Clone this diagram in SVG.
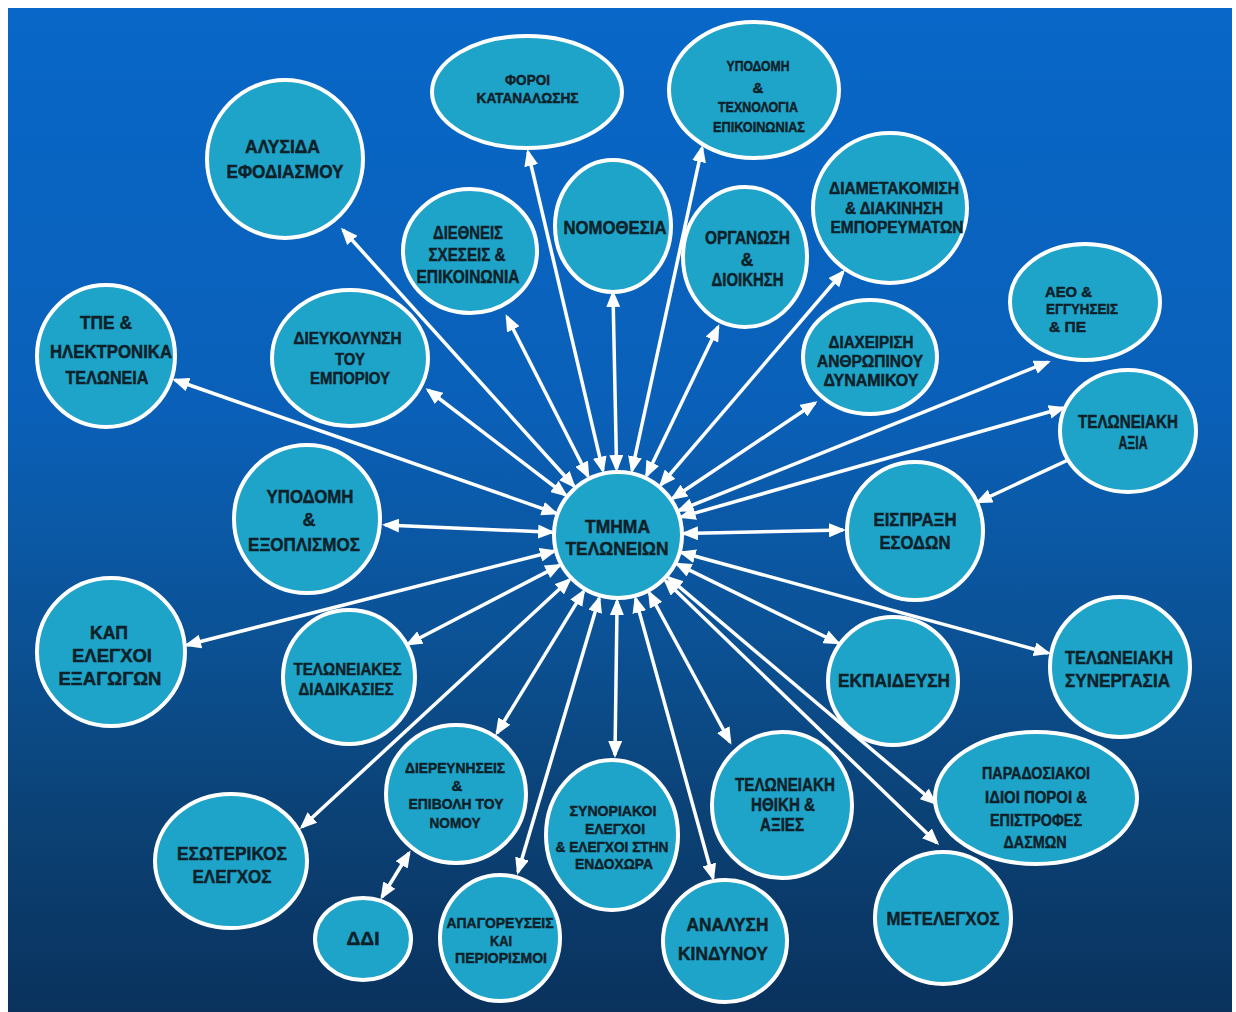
<svg xmlns="http://www.w3.org/2000/svg" width="1236" height="1012" viewBox="0 0 1236 1012">
<defs>
<linearGradient id="bg" x1="0" y1="0" x2="0" y2="1">
<stop offset="0" stop-color="#0867c8"/>
<stop offset="0.4" stop-color="#0a60b8"/>
<stop offset="0.62" stop-color="#0b5296"/>
<stop offset="0.8" stop-color="#0b4276"/>
<stop offset="1" stop-color="#0a325d"/>
</linearGradient>
<marker id="ah" markerUnits="userSpaceOnUse" markerWidth="17" markerHeight="14" refX="14" refY="7" orient="auto-start-reverse">
<path d="M0,0 L17,7 L0,14 z" fill="#ffffff"/>
</marker>
<style>
.n ellipse{fill:#1fa4c9;stroke:#ffffff;stroke-width:4}
.n text{font-family:"Liberation Sans",Arial,sans-serif;font-weight:bold;fill:#0e2129;stroke:#0e2129;stroke-width:0.45;text-anchor:middle;dominant-baseline:central}
.n text.s{text-anchor:start}
.f13{font-size:14px}.f14{font-size:15px}.f15{font-size:16px}.f15b{font-size:15px}.f16{font-size:17.5px}.f17{font-size:18px}.f18{font-size:18.5px}
#connectors line{stroke:#ffffff;stroke-width:3.5;marker-start:url(#ah);marker-end:url(#ah)}
#connectors line.one{marker-start:none}
</style>
</defs>
<rect x="0" y="0" width="1236" height="1012" fill="#ffffff"/>
<rect x="8" y="8" width="1224" height="1004" fill="url(#bg)"/>

<g id="connectors">
<line x1="573.8" y1="486.0" x2="343" y2="230"/>
<line x1="602.9" y1="470.7" x2="528" y2="152"/>
<line x1="632.0" y1="470.5" x2="702" y2="148"/>
<line x1="616.6" y1="469.0" x2="613" y2="293"/>
<line x1="588.0" y1="476.2" x2="507" y2="317"/>
<line x1="646.6" y1="475.5" x2="718" y2="327"/>
<line x1="660.9" y1="484.8" x2="843" y2="272"/>
<line x1="672.8" y1="498.3" x2="815" y2="403"/>
<line x1="679.2" y1="510.4" x2="1048" y2="362"/>
<line x1="681.5" y1="516.9" x2="1063" y2="408"/>
<line x1="555.7" y1="513.2" x2="175" y2="380"/>
<line x1="565.5" y1="495.0" x2="428" y2="390"/>
<line x1="552.1" y1="532.2" x2="385" y2="525"/>
<line x1="684.0" y1="533.5" x2="843" y2="530"/>
<line x1="677.2" y1="564.1" x2="838" y2="643"/>
<line x1="681.6" y1="552.5" x2="1048" y2="653"/>
<line x1="554.0" y1="551.3" x2="187" y2="645"/>
<line x1="559.4" y1="565.4" x2="408" y2="644"/>
<line x1="569.5" y1="579.8" x2="302" y2="827"/>
<line x1="583.6" y1="591.3" x2="497" y2="733"/>
<line x1="599.2" y1="598.3" x2="518" y2="872"/>
<line x1="617.1" y1="601.0" x2="615" y2="755"/>
<line x1="635.6" y1="598.6" x2="713" y2="878"/>
<line x1="649.4" y1="593.0" x2="730" y2="742"/>
<line x1="668.4" y1="577.6" x2="935" y2="803"/>
<line x1="665.5" y1="580.8" x2="937" y2="843"/>
<line class="one" x1="1068" y1="460" x2="978" y2="502"/>
<line x1="382" y1="897" x2="409" y2="853"/>
</g>

<g id="n-tmima" class="n"><ellipse cx="618" cy="535" rx="64" ry="63"/>
<text class="f18" x="617.5" y="526" textLength="65" lengthAdjust="spacingAndGlyphs">ΤΜΗΜΑ</text>
<text class="f18" x="617" y="548" textLength="103" lengthAdjust="spacingAndGlyphs">ΤΕΛΩΝΕΙΩΝ</text></g>

<g id="n-alysida" class="n"><ellipse cx="285" cy="159" rx="78" ry="79"/>
<text class="f17" x="282.5" y="147" textLength="75" lengthAdjust="spacingAndGlyphs">ΑΛΥΣΙΔΑ</text>
<text class="f17" x="285" y="172" textLength="117" lengthAdjust="spacingAndGlyphs">ΕΦΟΔΙΑΣΜΟΥ</text></g>

<g id="n-foroi" class="n"><ellipse cx="527" cy="92" rx="95" ry="56"/>
<text class="f13" x="527.5" y="80" textLength="45" lengthAdjust="spacingAndGlyphs">ΦΟΡΟΙ</text>
<text class="f13" x="527.5" y="98" textLength="102" lengthAdjust="spacingAndGlyphs">ΚΑΤΑΝΑΛΩΣΗΣ</text></g>

<g id="n-ypodomi-tech" class="n"><ellipse cx="754" cy="90" rx="85" ry="68"/>
<text class="f15b" x="758" y="65" textLength="63" lengthAdjust="spacingAndGlyphs">ΥΠΟΔΟΜΗ</text>
<text class="f15b" x="758" y="87">&amp;</text>
<text class="f15b" x="758" y="106" textLength="80" lengthAdjust="spacingAndGlyphs">ΤΕΧΝΟΛΟΓΙΑ</text>
<text class="f15b" x="759" y="126" textLength="92" lengthAdjust="spacingAndGlyphs">ΕΠΙΚΟΙΝΩΝΙΑΣ</text></g>

<g id="n-nomothesia" class="n"><ellipse cx="613" cy="226" rx="58" ry="66"/>
<text class="f18" x="615" y="227" textLength="103" lengthAdjust="spacingAndGlyphs">ΝΟΜΟΘΕΣΙΑ</text></g>

<g id="n-diethneis" class="n"><ellipse cx="470" cy="251" rx="67" ry="62"/>
<text class="f16" x="468" y="233" textLength="70" lengthAdjust="spacingAndGlyphs">ΔΙΕΘΝΕΙΣ</text>
<text class="f16" x="467" y="255" textLength="77" lengthAdjust="spacingAndGlyphs">ΣΧΕΣΕΙΣ &amp;</text>
<text class="f16" x="468" y="277" textLength="103" lengthAdjust="spacingAndGlyphs">ΕΠΙΚΟΙΝΩΝΙΑ</text></g>

<g id="n-organosi" class="n"><ellipse cx="745" cy="257" rx="62" ry="70"/>
<text class="f16" x="747.5" y="238" textLength="85" lengthAdjust="spacingAndGlyphs">ΟΡΓΑΝΩΣΗ</text>
<text class="f16" x="747" y="260">&amp;</text>
<text class="f16" x="747.5" y="280" textLength="72" lengthAdjust="spacingAndGlyphs">ΔΙΟΙΚΗΣΗ</text></g>

<g id="n-diametakomisi" class="n"><ellipse cx="890" cy="208" rx="77" ry="75"/>
<text class="f15" x="894" y="188" textLength="130" lengthAdjust="spacingAndGlyphs">ΔΙΑΜΕΤΑΚΟΜΙΣΗ</text>
<text class="f15" x="894" y="208" textLength="98" lengthAdjust="spacingAndGlyphs">&amp; ΔΙΑΚΙΝΗΣΗ</text>
<text class="f15" x="897" y="227" textLength="133" lengthAdjust="spacingAndGlyphs">ΕΜΠΟΡΕΥΜΑΤΩΝ</text></g>

<g id="n-aeo" class="n"><ellipse cx="1085" cy="302" rx="75" ry="58"/>
<text class="f13 s" x="1045" y="292" textLength="47" lengthAdjust="spacingAndGlyphs">ΑΕΟ  &amp;</text>
<text class="f13 s" x="1046" y="309" textLength="72" lengthAdjust="spacingAndGlyphs">ΕΓΓΥΗΣΕΙΣ</text>
<text class="f13 s" x="1049" y="327" textLength="37" lengthAdjust="spacingAndGlyphs">&amp; ΠΕ</text></g>

<g id="n-diaxeirisi" class="n"><ellipse cx="870" cy="357" rx="67" ry="57"/>
<text class="f15" x="871" y="342" textLength="85" lengthAdjust="spacingAndGlyphs">ΔΙΑΧΕΙΡΙΣΗ</text>
<text class="f15" x="870" y="361" textLength="106" lengthAdjust="spacingAndGlyphs">ΑΝΘΡΩΠΙΝΟΥ</text>
<text class="f15" x="871" y="380" textLength="95" lengthAdjust="spacingAndGlyphs">ΔΥΝΑΜΙΚΟΥ</text></g>

<g id="n-axia" class="n"><ellipse cx="1128" cy="431" rx="68" ry="61"/>
<text class="f16" x="1128" y="422" textLength="100" lengthAdjust="spacingAndGlyphs">ΤΕΛΩΝΕΙΑΚΗ</text>
<text class="f16" x="1133" y="443" textLength="29" lengthAdjust="spacingAndGlyphs">ΑΞΙΑ</text></g>

<g id="n-tpe" class="n"><ellipse cx="106" cy="356" rx="69" ry="71"/>
<text class="f17" x="106" y="323" textLength="52" lengthAdjust="spacingAndGlyphs">ΤΠΕ &amp;</text>
<text class="f17" x="111" y="352" textLength="122" lengthAdjust="spacingAndGlyphs">ΗΛΕΚΤΡΟΝΙΚΑ</text>
<text class="f17" x="107" y="378" textLength="83" lengthAdjust="spacingAndGlyphs">ΤΕΛΩΝΕΙΑ</text></g>

<g id="n-dieukolynsi" class="n"><ellipse cx="350" cy="358" rx="78" ry="68"/>
<text class="f15" x="347.5" y="338" textLength="108" lengthAdjust="spacingAndGlyphs">ΔΙΕΥΚΟΛΥΝΣΗ</text>
<text class="f15" x="350" y="359" textLength="30" lengthAdjust="spacingAndGlyphs">ΤΟΥ</text>
<text class="f15" x="350" y="378" textLength="80" lengthAdjust="spacingAndGlyphs">ΕΜΠΟΡΙΟΥ</text></g>

<g id="n-ypodomi-ex" class="n"><ellipse cx="307" cy="519" rx="73" ry="74"/>
<text class="f17" x="310" y="497" textLength="87" lengthAdjust="spacingAndGlyphs">ΥΠΟΔΟΜΗ</text>
<text class="f17" x="309" y="520">&amp;</text>
<text class="f17" x="304" y="545" textLength="112" lengthAdjust="spacingAndGlyphs">ΕΞΟΠΛΙΣΜΟΣ</text></g>

<g id="n-eispraxi" class="n"><ellipse cx="915" cy="531" rx="68" ry="69"/>
<text class="f17" x="915" y="520" textLength="83" lengthAdjust="spacingAndGlyphs">ΕΙΣΠΡΑΞΗ</text>
<text class="f17" x="915" y="543" textLength="71" lengthAdjust="spacingAndGlyphs">ΕΣΟΔΩΝ</text></g>

<g id="n-ekpaideusi" class="n"><ellipse cx="893" cy="681" rx="65" ry="64"/>
<text class="f18" x="894" y="680" textLength="112" lengthAdjust="spacingAndGlyphs">ΕΚΠΑΙΔΕΥΣΗ</text></g>

<g id="n-synergasia" class="n"><ellipse cx="1120" cy="667" rx="70" ry="70"/>
<text class="f18" x="1119" y="657" textLength="108" lengthAdjust="spacingAndGlyphs">ΤΕΛΩΝΕΙΑΚΗ</text>
<text class="f18" x="1117.5" y="680" textLength="105" lengthAdjust="spacingAndGlyphs">ΣΥΝΕΡΓΑΣΙΑ</text></g>

<g id="n-kap" class="n"><ellipse cx="111" cy="652" rx="74" ry="74"/>
<text class="f18" x="109" y="632" textLength="38" lengthAdjust="spacingAndGlyphs">ΚΑΠ</text>
<text class="f18" x="112" y="655" textLength="80" lengthAdjust="spacingAndGlyphs">ΕΛΕΓΧΟΙ</text>
<text class="f18" x="110" y="678" textLength="103" lengthAdjust="spacingAndGlyphs">ΕΞΑΓΩΓΩΝ</text></g>

<g id="n-diadikasies" class="n"><ellipse cx="349" cy="677" rx="66" ry="67"/>
<text class="f15" x="347.5" y="669" textLength="108" lengthAdjust="spacingAndGlyphs">ΤΕΛΩΝΕΙΑΚΕΣ</text>
<text class="f15" x="346" y="689" textLength="95" lengthAdjust="spacingAndGlyphs">ΔΙΑΔΙΚΑΣΙΕΣ</text></g>

<g id="n-esoterikos" class="n"><ellipse cx="231" cy="861" rx="76" ry="67"/>
<text class="f18" x="232" y="853" textLength="110" lengthAdjust="spacingAndGlyphs">ΕΣΩΤΕΡΙΚΟΣ</text>
<text class="f18" x="232" y="876" textLength="79" lengthAdjust="spacingAndGlyphs">ΕΛΕΓΧΟΣ</text></g>

<g id="n-ddi" class="n"><ellipse cx="363" cy="939" rx="48" ry="41"/>
<text class="f18" x="363" y="938" textLength="33" lengthAdjust="spacingAndGlyphs">ΔΔΙ</text></g>

<g id="n-dierevniseis" class="n"><ellipse cx="456" cy="794" rx="70" ry="69"/>
<text class="f14" x="455" y="767" textLength="100" lengthAdjust="spacingAndGlyphs">ΔΙΕΡΕΥΝΗΣΕΙΣ</text>
<text class="f14" x="457" y="785">&amp;</text>
<text class="f14" x="456" y="803" textLength="95" lengthAdjust="spacingAndGlyphs">ΕΠΙΒΟΛΗ ΤΟΥ</text>
<text class="f14" x="455" y="822" textLength="51" lengthAdjust="spacingAndGlyphs">ΝΟΜΟΥ</text></g>

<g id="n-apagoreuseis" class="n"><ellipse cx="500" cy="938" rx="60" ry="63"/>
<text class="f14" x="500" y="922" textLength="107" lengthAdjust="spacingAndGlyphs">ΑΠΑΓΟΡΕΥΣΕΙΣ</text>
<text class="f14" x="501" y="940" textLength="22" lengthAdjust="spacingAndGlyphs">ΚΑΙ</text>
<text class="f14" x="501" y="957" textLength="92" lengthAdjust="spacingAndGlyphs">ΠΕΡΙΟΡΙΣΜΟΙ</text></g>

<g id="n-synoriakoi" class="n"><ellipse cx="612" cy="835" rx="66" ry="75"/>
<text class="f14" x="613" y="810" textLength="87" lengthAdjust="spacingAndGlyphs">ΣΥΝΟΡΙΑΚΟΙ</text>
<text class="f14" x="615" y="828" textLength="60" lengthAdjust="spacingAndGlyphs">ΕΛΕΓΧΟΙ</text>
<text class="f14" x="612" y="846" textLength="113" lengthAdjust="spacingAndGlyphs">&amp; ΕΛΕΓΧΟΙ ΣΤΗΝ</text>
<text class="f14" x="614" y="863" textLength="78" lengthAdjust="spacingAndGlyphs">ΕΝΔΟΧΩΡΑ</text></g>

<g id="n-analysi" class="n"><ellipse cx="725" cy="941" rx="62" ry="61"/>
<text class="f18" x="727.5" y="924" textLength="82" lengthAdjust="spacingAndGlyphs">ΑΝΑΛΥΣΗ</text>
<text class="f18" x="723" y="953" textLength="90" lengthAdjust="spacingAndGlyphs">ΚΙΝΔΥΝΟΥ</text></g>

<g id="n-ithiki" class="n"><ellipse cx="782" cy="805" rx="70" ry="73"/>
<text class="f16" x="785" y="785" textLength="100" lengthAdjust="spacingAndGlyphs">ΤΕΛΩΝΕΙΑΚΗ</text>
<text class="f16" x="783" y="805" textLength="64" lengthAdjust="spacingAndGlyphs">ΗΘΙΚΗ &amp;</text>
<text class="f16" x="782" y="825" textLength="44" lengthAdjust="spacingAndGlyphs">ΑΞΙΕΣ</text></g>

<g id="n-paradosiakoi" class="n"><ellipse cx="1036" cy="798" rx="101" ry="66"/>
<text class="f15" x="1036" y="773" textLength="108" lengthAdjust="spacingAndGlyphs">ΠΑΡΑΔΟΣΙΑΚΟΙ</text>
<text class="f15" x="1036" y="797" textLength="102" lengthAdjust="spacingAndGlyphs">ΙΔΙΟΙ ΠΟΡΟΙ &amp;</text>
<text class="f15" x="1036" y="820" textLength="92" lengthAdjust="spacingAndGlyphs">ΕΠΙΣΤΡΟΦΕΣ</text>
<text class="f15" x="1035" y="842" textLength="63" lengthAdjust="spacingAndGlyphs">ΔΑΣΜΩΝ</text></g>

<g id="n-metelegxos" class="n"><ellipse cx="943" cy="918" rx="68" ry="66"/>
<text class="f18" x="943" y="918" textLength="113" lengthAdjust="spacingAndGlyphs">ΜΕΤΕΛΕΓΧΟΣ</text></g>
</svg>
